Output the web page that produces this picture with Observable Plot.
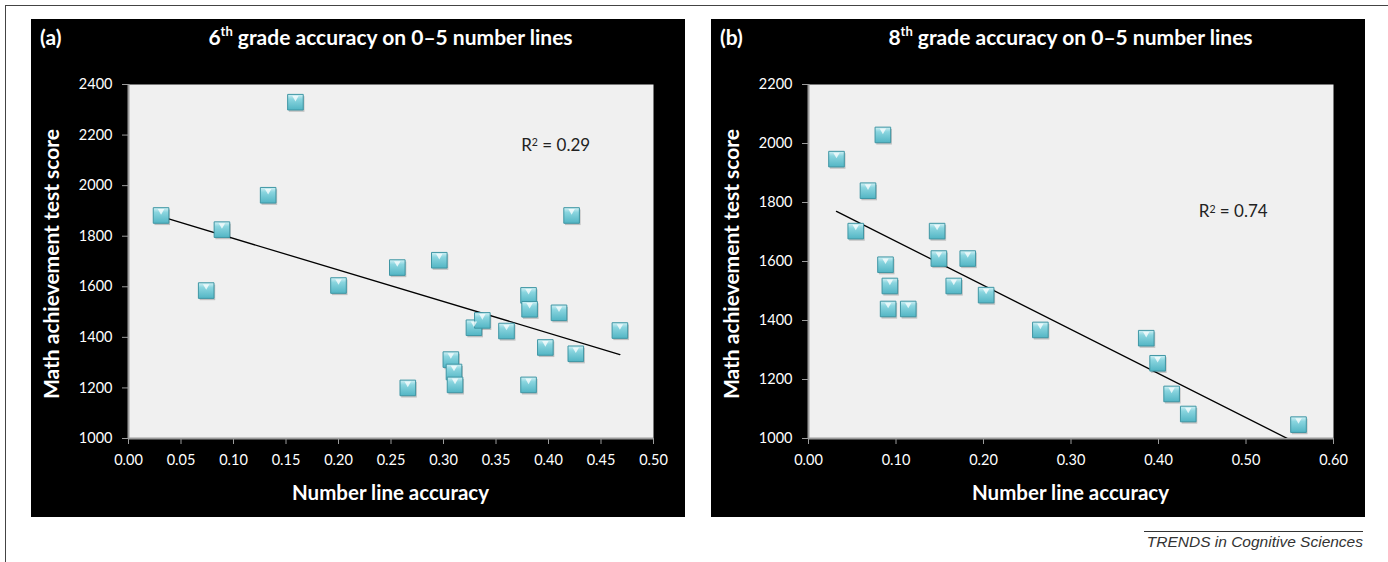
<!DOCTYPE html>
<html>
<head>
<meta charset="utf-8">
<script src="https://cdn.jsdelivr.net/npm/d3@7"></script>
<script src="https://cdn.jsdelivr.net/npm/@observablehq/plot@0.6"></script>
<style>
  html, body { margin: 0; padding: 0; background: #fff; }
  body { width: 1388px; height: 562px; position: relative; overflow: hidden; font-family: Lato, "Open Sans", sans-serif; }
  .bt { position: absolute; left: 5px; top: 5px; width: 1383px; border-top: 1.5px solid #444; }
  .bl { position: absolute; left: 5px; top: 5px; height: 557px; border-left: 1.5px solid #444; }
  .panel { position: absolute; top: 19px; width: 654px; height: 498px; background: #000; }
  .panel svg { position: absolute; left: 0; top: 0; }
  .tag { position: absolute; left: 9px; top: 5px; color: #fff; font-weight: 700; font-size: 21px; line-height: 26px; }
  .title { position: absolute; left: 97px; width: 525px; top: 5px; text-align: center; color: #fff; font-weight: 700; font-size: 21px; line-height: 26px; white-space: nowrap; }
  .title sup { font-size: 13px; line-height: 0; position: relative; top: -1px; }
  .xlab { position: absolute; left: 97px; width: 525px; top: 460px; text-align: center; color: #fff; font-weight: 700; font-size: 20.5px; line-height: 26px; }
  .ylab { position: absolute; left: 20px; top: 245px; width: 0; height: 0; }
  .ylab span { position: absolute; transform: translate(-50%, -50%) rotate(-90deg); color: #fff; font-weight: 700; font-size: 21px; line-height: 26px; white-space: nowrap; }
  .capline { position: absolute; left: 1144px; top: 531px; width: 219px; border-top: 1px solid #333; }
  .caption { position: absolute; right: 25px; top: 533px; font-family: "Liberation Sans", Arial, sans-serif; font-style: italic; font-size: 15.5px; color: #333; white-space: nowrap; }
</style>
</head>
<body>
<svg width="0" height="0" style="position:absolute">
  <defs>
    <linearGradient id="sqgrad" x1="0" y1="0" x2="0" y2="1">
      <stop offset="0" stop-color="#d2f1f5"/>
      <stop offset="0.3" stop-color="#8ad5df"/>
      <stop offset="1" stop-color="#52b5c4"/>
    </linearGradient>
  </defs>
</svg>
<div class="bt"></div>
<div class="bl"></div>

<div class="panel" id="pa" style="left:31px">
  <div class="tag">(a)</div>
  <div class="title">6<sup>th</sup> grade accuracy on 0–5 number lines</div>
  <div class="xlab">Number line accuracy</div>
  <div class="ylab"><span>Math achievement test score</span></div>
</div>
<div class="panel" id="pb" style="left:711px">
  <div class="tag">(b)</div>
  <div class="title">8<sup>th</sup> grade accuracy on 0–5 number lines</div>
  <div class="xlab">Number line accuracy</div>
  <div class="ylab"><span>Math achievement test score</span></div>
</div>

<div class="capline"></div>
<div class="caption">TRENDS in Cognitive Sciences</div>

<script>
// ---------- Panel (a): 6th grade ----------
const accuracyA = [0.031, 0.074, 0.089, 0.133, 0.159, 0.200, 0.256, 0.266, 0.296, 0.307, 0.310, 0.311,
                   0.329, 0.337, 0.360, 0.381, 0.382, 0.381, 0.397, 0.410, 0.422, 0.426, 0.468];
const scoreA    = [1882, 1585, 1826, 1962, 2330, 1605, 1676, 1200, 1705, 1312, 1263, 1212,
                   1438, 1467, 1425, 1566, 1511, 1212, 1360, 1497, 1882, 1335, 1427];
const trendXA = [0.032, 0.468];
const trendYA = [1876, 1332];
const xTicksA = [0, 0.05, 0.10, 0.15, 0.20, 0.25, 0.30, 0.35, 0.40, 0.45, 0.50];
const yTicksA = [1000, 1200, 1400, 1600, 1800, 2000, 2200, 2400];
const r2ValueA = "0.29";
const r2PosA = [0.374, 2160];

// ---------- Panel (b): 8th grade ----------
const accuracyB = [0.032, 0.054, 0.068, 0.085, 0.088, 0.091, 0.093, 0.114, 0.147, 0.149, 0.166, 0.182,
                   0.203, 0.265, 0.386, 0.399, 0.415, 0.434, 0.560];
const scoreB    = [1947, 1703, 1840, 2029, 1589, 1439, 1517, 1439, 1703, 1610, 1517, 1610,
                   1486, 1368, 1340, 1255, 1151, 1083, 1047];
const trendXB = [0.032, 0.560];
const trendYB = [1770, 981];
const xTicksB = [0, 0.10, 0.20, 0.30, 0.40, 0.50, 0.60];
const yTicksB = [1000, 1200, 1400, 1600, 1800, 2000, 2200];
const r2ValueB = "0.74";
const r2PosB = [0.446, 1769];

function makePanel(xs, ys, tx, ty, xTicks, yTicks, r2Value, r2Pos) {
  const pts = xs.map((x, i) => ({x, y: ys[i]}));
  const trend = tx.map((x, i) => ({x, y: ty[i]}));
  const xDom = [xTicks[0], xTicks[xTicks.length - 1]];
  const yDom = [yTicks[0], yTicks[yTicks.length - 1]];
  const svg = Plot.plot({
    width: 654,
    height: 498,
    marginTop: 65,
    marginRight: 32,
    marginBottom: 79,
    marginLeft: 97,
    style: {background: "transparent", fontFamily: "Lato, sans-serif", overflow: "visible"},
    x: {domain: xDom},
    y: {domain: yDom},
    marks: [
      Plot.frame({fill: "#f0f0f0", stroke: "none"}),
      Plot.ruleX([xDom[0]], {stroke: "#9b9b9b", strokeWidth: 2}),
      Plot.ruleY([yDom[0]], {stroke: "#9b9b9b", strokeWidth: 2}),
      Plot.axisX({ticks: xTicks, tickFormat: d3.format(".2f"), tickSize: 6, tickPadding: 10,
                  stroke: "#9b9b9b", fill: "#fff", fontSize: 14.5, label: null}),
      Plot.axisY({ticks: yTicks, tickFormat: d => String(d), tickSize: 6, tickPadding: 10,
                  stroke: "#9b9b9b", fill: "#fff", fontSize: 14.5, label: null}),
      Plot.line(trend, {x: "x", y: "y", stroke: "#000", strokeWidth: 1.3, clip: true}),
      Plot.dot(pts, {x: "x", y: "y", symbol: "square", r: 8.8, fill: "#000", fillOpacity: 0.2,
                     stroke: "none", dx: 1.2, dy: 1.8}),
      Plot.dot(pts, {x: "x", y: "y", symbol: "square", r: 8.8, fill: "url(#sqgrad)",
                     stroke: "#3f96a4", strokeWidth: 1}),
      Plot.dot(pts, {x: "x", y: "y", symbol: "triangle", rotate: 180, r: 2.4, fill: "#fff",
                     fillOpacity: 0.75, stroke: "none", dy: -4.5}),
      Plot.text([r2Pos], {x: d => d[0], y: d => d[1], text: () => "R2 = " + r2Value, textAnchor: "start",
                          fill: "#222", fontSize: 17, className: "r2"})
    ]
  });
  // render the "2" of R² as a real superscript
  svg.querySelectorAll(".r2 text").forEach(t => {
    t.textContent = "";
    const ns = "http://www.w3.org/2000/svg";
    const a = document.createElementNS(ns, "tspan"); a.textContent = "R";
    const b = document.createElementNS(ns, "tspan"); b.textContent = "2";
    b.setAttribute("dy", "-0.42em"); b.setAttribute("font-size", "0.62em");
    const c = document.createElementNS(ns, "tspan"); c.textContent = " = " + r2Value;
    c.setAttribute("dy", "0.26em");
    t.append(a, b, c);
  });
  return svg;
}

document.getElementById("pa").appendChild(
  makePanel(accuracyA, scoreA, trendXA, trendYA, xTicksA, yTicksA, r2ValueA, r2PosA));
document.getElementById("pb").appendChild(
  makePanel(accuracyB, scoreB, trendXB, trendYB, xTicksB, yTicksB, r2ValueB, r2PosB));
</script>
</body>
</html>
